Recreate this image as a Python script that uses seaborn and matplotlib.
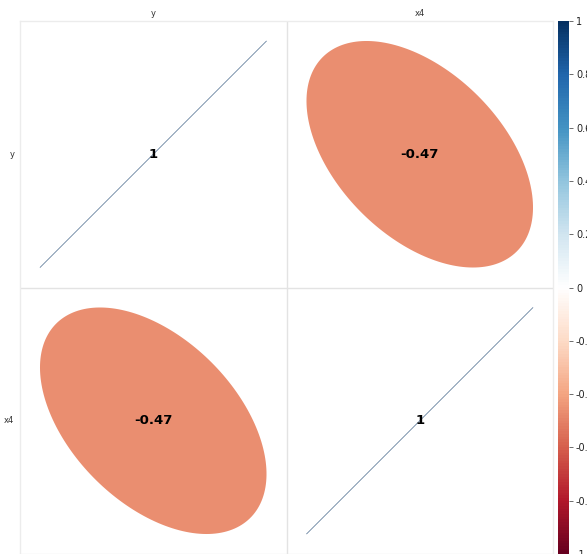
import numpy as np
import pandas as pd
import matplotlib
matplotlib.use("Agg")
import matplotlib.pyplot as plt
from matplotlib.colors import LinearSegmentedColormap
from matplotlib.patches import Polygon
import seaborn as sns

# Correlation matrix of y and x4
variables = ["y", "x4"]
corr_values = [[1.0, -0.47],
               [-0.47, 1.0]]
value_labels = [["1", "-0.47"],
                ["-0.47", "1"]]
cbar_ticks = [-1, -0.8, -0.6, -0.4, -0.2, 0, 0.2, 0.4, 0.6, 0.8, 1]
cbar_ticklabels = ["-1", "-0.8", "-0.6", "-0.4", "-0.2", "0", "0.2", "0.4", "0.6", "0.8", "1"]

corr = pd.DataFrame(corr_values, index=variables, columns=variables)

rdbu = LinearSegmentedColormap.from_list(
    "rdbu_corr",
    ["#67001F", "#B2182B", "#D6604D", "#F4A582", "#FDDBC7", "#FFFFFF",
     "#D1E5F0", "#92C5DE", "#4393C3", "#2166AC", "#053061"], N=200)

sns.set_style("white")
fig = plt.figure(figsize=(5.87, 5.54), dpi=100)
ax = fig.add_axes([20 / 587, 0.0, 533 / 587, 1 - 21 / 554])
cax = fig.add_axes([558 / 587, 0.0, 11 / 587, 1 - 21 / 554])

# Heatmap supplies the grid, the axis labels and the colour bar; the cells
# themselves are masked and replaced by ellipses below.
mask = np.ones_like(corr.values, dtype=bool)
sns.heatmap(corr, mask=mask, cmap=rdbu, vmin=-1, vmax=1, ax=ax, cbar_ax=cax,
            square=False, linewidths=0)
ax.set_facecolor("white")

n = len(variables)
for k in range(1, n):
    ax.axhline(k, color="#e3e3e3", lw=1.0, zorder=1)
    ax.axvline(k, color="#e3e3e3", lw=1.0, zorder=1)
for s in ["top", "left", "right", "bottom"]:
    ax.spines[s].set_visible(True)
    ax.spines[s].set_color("#ececec")
    ax.spines[s].set_linewidth(1.0)

# Ellipse whose shape encodes the correlation
t = np.linspace(0, 2 * np.pi, 200)
amp = 0.425
for i in range(n):
    for j in range(n):
        r = corr.values[i, j]
        d = np.arccos(np.clip(r, -1, 1))
        ex = amp * np.cos(t + d / 2)
        ey = amp * np.cos(t - d / 2)
        xs = j + 0.5 + ex
        ys = i + 0.5 - ey  # heatmap y axis is inverted
        color = rdbu((r + 1) / 2)
        if abs(abs(r) - 1) < 1e-9:
            ax.plot(xs, ys, color=color, lw=0.4, alpha=0.45, zorder=2)
        else:
            ax.add_patch(Polygon(np.column_stack([xs, ys]), closed=True,
                                 facecolor=color, edgecolor="none", zorder=2))
        ax.text(j + 0.5, i + 0.5, value_labels[i][j], ha="center", va="center",
                fontsize=9.5, fontweight="bold", color="black", zorder=3)

ax.xaxis.tick_top()
ax.set_xticks([k + 0.5 for k in range(n)])
ax.set_xticklabels(variables, fontsize=6, color="#333333")
ax.set_yticks([k + 0.5 for k in range(n)])
ax.set_yticklabels(variables, fontsize=6, color="#333333", rotation=0)
ax.tick_params(axis="x", length=0, pad=2)
ax.tick_params(axis="y", length=0, pad=4)
ax.set_xlabel("")
ax.set_ylabel("")

cax.set_yticks(cbar_ticks)
cax.set_yticklabels(cbar_ticklabels)
cax.tick_params(axis="y", labelsize=7, length=3, width=0.6, color="#555555",
                labelcolor="#222222", pad=2)
for s in cax.spines.values():
    s.set_visible(False)

fig.savefig("out.png", dpi=100)
